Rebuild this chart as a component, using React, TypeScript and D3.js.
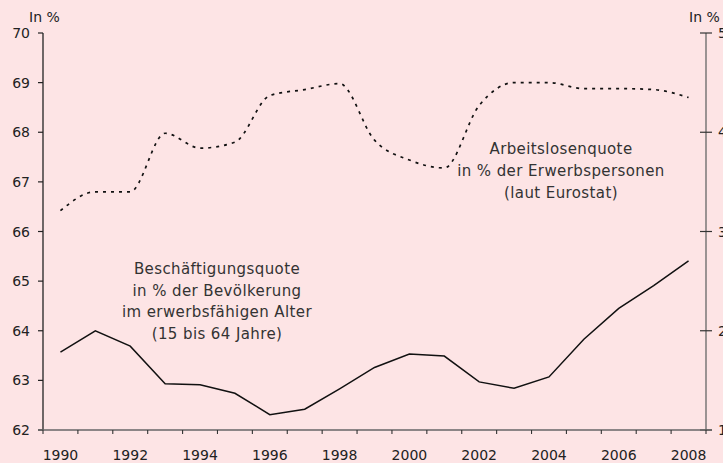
import {useMemo} from "react";
import * as d3 from "d3";

// Jahre (Kategorien der x-Achse)
const years = [1990, 1991, 1992, 1993, 1994, 1995, 1996, 1997, 1998, 1999,
    2000, 2001, 2002, 2003, 2004, 2005, 2006, 2007, 2008];

// Beschäftigungsquote (linke Achse, in %)
const employment = [63.57, 64.0, 63.69, 62.93, 62.91, 62.74, 62.31, 62.42, 62.83, 63.26,
    63.53, 63.49, 62.97, 62.84, 63.07, 63.83, 64.45, 64.91, 65.41];

// Arbeitslosenquote (rechte Achse, in %)
const unemployment = [3.21, 3.4, 3.4, 3.99, 3.84, 3.9, 4.37, 4.43, 4.49, 3.92,
    3.72, 3.64, 4.27, 4.5, 4.5, 4.44, 4.44, 4.43, 4.35];

const leftTicks = [62, 63, 64, 65, 66, 67, 68, 69, 70];
const rightTicks = [1, 2, 3, 4, 5];
const yearLabels = [1990, 1992, 1994, 1996, 1998, 2000, 2002, 2004, 2006, 2008];

const employmentLabel = ["Beschäftigungsquote", "in % der Bevölkerung", "im erwerbsfähigen Alter", "(15 bis 64 Jahre)"];
const unemploymentLabel = ["Arbeitslosenquote", "in % der Erwerbspersonen", "(laut Eurostat)"];

function App() {
    const width = 723;
    const height = 463;
    const margin = {top: 33, right: 17, bottom: 33, left: 43};
    const x0 = margin.left;
    const x1 = width - margin.right;
    const y0 = height - margin.bottom;
    const font = "'DejaVu Sans', sans-serif";

    const xScale = d3.scaleBand<number>()
        .domain(years)
        .range([x0, x1])
        .padding(0);
    const xc = (yr: number) => (xScale(yr) ?? 0) + xScale.bandwidth() / 2;

    const yLeft = d3.scaleLinear().domain([62, 70]).range([y0, margin.top]);
    const yRight = d3.scaleLinear().domain([1, 5]).range([y0, margin.top]);

    const empLine = useMemo(() => d3.line<number>()
        .x((_, i) => xc(years[i]))
        .y(d => yLeft(d))(employment), []);

    // geglättete Linie, flache Abschnitte bleiben flach
    const unLine = useMemo(() => d3.line<number>()
        .x((_, i) => xc(years[i]))
        .y(d => yRight(d))
        .curve(d3.curveMonotoneX)(unemployment), []);

    // Grenzen der Kategorien für Ticks der x-Achse
    const boundaries = years.map(yr => xScale(yr) ?? 0).concat([x1]);

    return (
        <svg width={width} height={height} viewBox={`0 0 ${width} ${height}`}
             style={{position: "absolute", left: 0, top: 0, background: "#fde4e5"}}
             fontFamily={font}>
            <rect x={0} y={0} width={width} height={height} fill="#fde4e5"/>

            {/* linke Achse */}
            <line x1={x0} x2={x0} y1={margin.top} y2={y0} stroke="#222" strokeWidth={1.3}/>
            {leftTicks.map(t =>
                <g key={t}>
                    <line x1={x0 - 5} x2={x0} y1={yLeft(t)} y2={yLeft(t)} stroke="#222" strokeWidth={1.2}/>
                    <text x={x0 - 13} y={yLeft(t)} dy="0.36em" textAnchor="end" fontSize={14} fill="#222">{t}</text>
                </g>
            )}
            <text x={29} y={22} fontSize={14} fill="#222">In %</text>

            {/* rechte Achse (Beschriftung wie im Original am Rand abgeschnitten) */}
            <line x1={x1} x2={x1} y1={margin.top} y2={y0} stroke="#666" strokeWidth={1.3}/>
            {rightTicks.map(t =>
                <g key={t}>
                    <line x1={x1 - 6} x2={x1 + 6} y1={yRight(t)} y2={yRight(t)} stroke="#333" strokeWidth={1.2}/>
                    <text x={x1 + 12} y={yRight(t)} dy="0.36em" fontSize={14} fill="#222">{t}</text>
                </g>
            )}
            <text x={689} y={22} fontSize={14} fill="#222">In %</text>

            {/* x-Achse */}
            <line x1={x0 - 5} x2={x1 + 6} y1={y0} y2={y0} stroke="#666" strokeWidth={1.5}/>
            {boundaries.map((b, i) =>
                <line key={i} x1={b} x2={b} y1={y0} y2={y0 + 4} stroke="#333" strokeWidth={1.1}/>
            )}
            {yearLabels.map(yr =>
                <text key={yr} x={xc(yr)} y={y0 + 30} textAnchor="middle" fontSize={14} fill="#222">{yr}</text>
            )}

            {/* Linien */}
            <path d={empLine ?? ""} fill="none" stroke="#111" strokeWidth={1.5}/>
            <path d={unLine ?? ""} fill="none" stroke="#111" strokeWidth={1.7} strokeDasharray="3,5"/>

            {/* Beschriftungen */}
            <text x={217} y={274} textAnchor="middle" fontSize={15} letterSpacing={0.4} fill="#333">
                {employmentLabel.map((s, i) => <tspan key={i} x={217} dy={i === 0 ? 0 : 21.5}>{s}</tspan>)}
            </text>
            <text x={561} y={154} textAnchor="middle" fontSize={15} letterSpacing={0.4} fill="#333">
                {unemploymentLabel.map((s, i) => <tspan key={i} x={561} dy={i === 0 ? 0 : 22}>{s}</tspan>)}
            </text>
        </svg>
    );
}

export default App;
